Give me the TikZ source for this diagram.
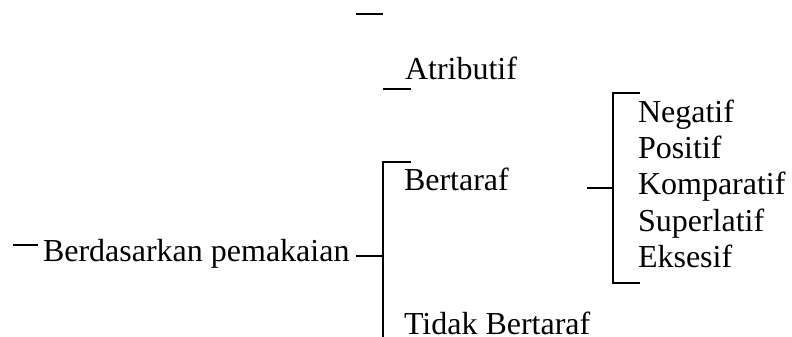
\documentclass[tikz,border=0pt]{standalone}
\usepackage{fontspec}
\setmainfont{Liberation Serif}
\begin{document}
\begin{tikzpicture}[x=1pt,y=-1pt,
  lbl/.style={anchor=base west,inner sep=0pt,outer sep=0pt,font=\fontsize{32}{38}\selectfont},
  ln/.style={line width=1.8pt}]
\useasboundingbox (0,0) rectangle (792,337);
% texts
\node[lbl] (root) at (43,261) {Berdasarkan pemakaian};
\node[lbl] (atr) at (405,80) {Atributif};
\node[lbl] (bert) at (404,190) {Bertaraf};
\node[lbl] (tidak) at (404,334) {Tidak Bertaraf};
\node[lbl] (neg) at (638,122) {Negatif};
\node[lbl] (pos) at (638,158) {Positif};
\node[lbl] (kom) at (638,194.5) {Komparatif};
\node[lbl] (sup) at (638,231) {Superlatif};
\node[lbl] (eks) at (638,267) {Eksesif};
% coordinates
\coordinate (topA) at (356,14);
\coordinate (topB) at (383,14);
\coordinate (atrA) at (383,89);
\coordinate (atrB) at (411,89);
\coordinate (rootL) at (13,245);
\coordinate (rootR) at (38,245);
\coordinate (tickA) at (356,256);
\coordinate (br1) at (383,256);
\coordinate (br1top) at (383,162);
\coordinate (br1topR) at (411,162);
\coordinate (br1bot) at (383,337);
\coordinate (tick2A) at (587,188);
\coordinate (br2) at (613,188);
\coordinate (br2top) at (613,93);
\coordinate (br2topR) at (640,93);
\coordinate (br2bot) at (613,283);
\coordinate (br2botR) at (640,283);
% lines
\draw[ln] (topA) -- (topB);
\draw[ln] (atrA) -- (atrB);
\draw[ln] (rootL) -- (rootR);
\draw[ln] (tickA) -- (br1);
\draw[ln] (br1topR) -- (br1top) -- (br1bot);
\draw[ln] (tick2A) -- (br2);
\draw[ln] (br2topR) -- (br2top) -- (br2bot) -- (br2botR);
\end{tikzpicture}
\end{document}
